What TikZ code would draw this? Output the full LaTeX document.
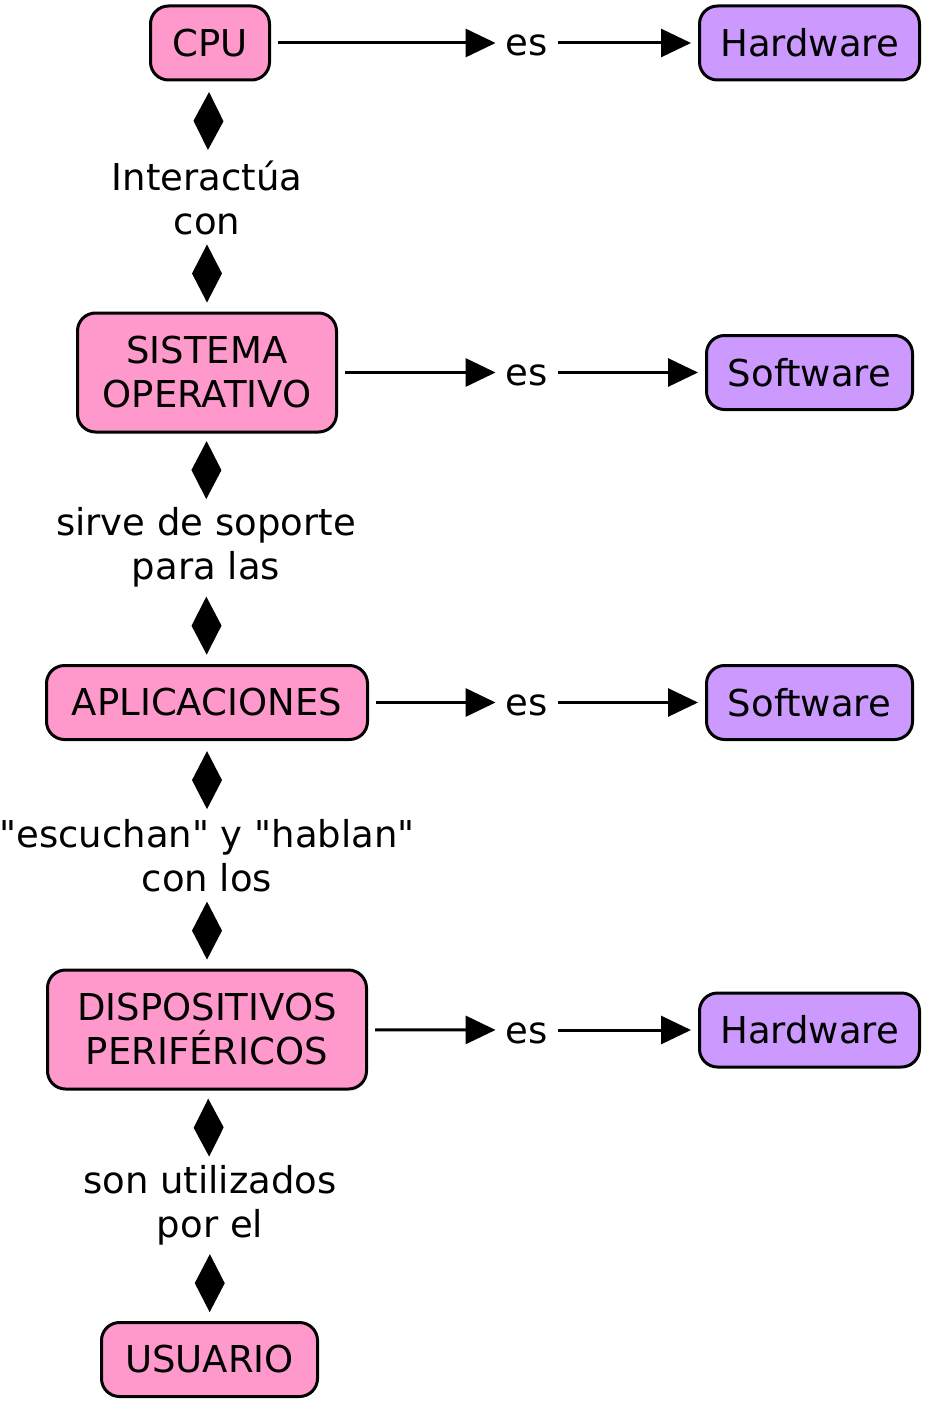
\documentclass[tikz,border=0pt]{standalone}
\usepackage{fontspec}
\setmainfont{DejaVu Sans}[Ligatures=TeXOff]
\usetikzlibrary{arrows.meta,decorations.markings}
\definecolor{conceptpink}{HTML}{FF99CC}
\definecolor{kindlilac}{HTML}{CC99FF}
\begin{document}
\begin{tikzpicture}[x=0.5pt,y=-0.5pt,
        font=\fontsize{18.5}{22}\selectfont,
        concept/.style={draw, line width=1.5pt, rounded corners=9pt, fill=conceptpink,
            align=center, inner xsep=10pt, inner ysep=9.5pt, minimum height=37pt},
        tall/.style={minimum height=59.5pt},
        kind/.style={concept, fill=kindlilac},
        link/.style={inner sep=1.5pt, text height=13pt, text depth=0pt},
        label/.style={align=center, inner sep=0pt},
        isarrow/.style={line width=1.5pt, -{Triangle[length=15pt,width=14pt]},
            shorten <=3.5pt, shorten >=3.5pt},
        rel/.style={draw=none, postaction={decorate},
            decoration={markings, mark=at position 0.5 with
                {\fill (-14.5pt,0pt) -- (0pt,7.5pt) -- (14.5pt,0pt) -- (0pt,-7.5pt) -- cycle;}}}]
    \useasboundingbox (0,0) rectangle (927,1402);

    % left column
    \node[concept, minimum width=59.5pt] (cpu) at (210,43) {CPU};
    \node[label] (l1) at (207,198) {Interactúa\\con};
    \node[concept, tall, minimum width=129.5pt] (so) at (207,372.5) {SISTEMA\\OPERATIVO};
    \node[label] (l2) at (206,547) {sirve de soporte\\para las};
    \node[concept, minimum width=160.5pt] (apps) at (207,702.5) {APLICACIONES};
    \node[label] (l3) at (207,856) {"escuchan" y "hablan"\\con los};
    \node[concept, tall, minimum width=159.5pt] (disp) at (207,1029.5) {DISPOSITIVOS\\PERIFÉRICOS};
    \node[label] (l4) at (210,1205) {son utilizados\\por el};
    \node[concept, minimum width=108pt] (user) at (209.5,1359.5) {USUARIO};

    % right column
    \node[link] (es1) at (527,43) {es};
    \node[kind, minimum width=110pt] (hw1) at (809.5,43) {Hardware};
    \node[link] (es2) at (527,372.5) {es};
    \node[kind, minimum width=103pt] (sw1) at (809.5,372.5) {Software};
    \node[link] (es3) at (527,702.5) {es};
    \node[kind, minimum width=103pt] (sw2) at (809.5,702.5) {Software};
    \node[link] (es4) at (527,1030) {es};
    \node[kind, minimum width=110pt] (hw2) at (809.5,1030) {Hardware};

    \foreach \a/\b/\c in {cpu/es1/hw1, so/es2/sw1, apps/es3/sw2, disp/es4/hw2}
        {
            \draw[isarrow] (\a) -- (\b);
            \draw[isarrow] (\b) -- (\c);
        }

    \foreach \a/\b in {cpu/l1, l1/so, so/l2, l2/apps, apps/l3, l3/disp, disp/l4, l4/user}
        {
            \draw[rel] (\a) -- (\b);
        }
\end{tikzpicture}
\end{document}
